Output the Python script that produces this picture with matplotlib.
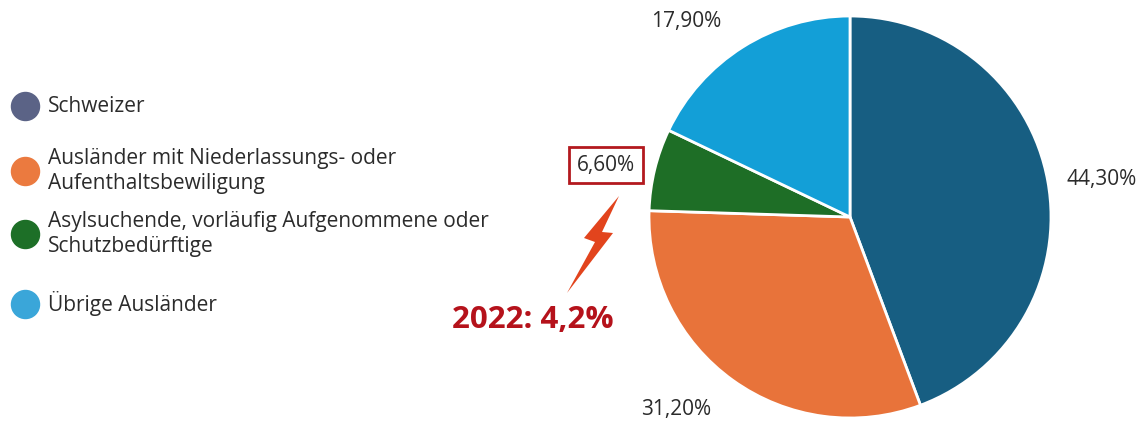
import matplotlib
matplotlib.use("Agg")
import matplotlib.pyplot as plt
from matplotlib.patches import Polygon

# ---- data ----
categories = [
    "Schweizer",
    "Ausländer mit Niederlassungs- oder\nAufenthaltsbewiligung",
    "Asylsuchende, vorläufig Aufgenommene oder\nSchutzbedürftige",
    "Übrige Ausländer",
]
shares = [44.30, 31.20, 6.60, 17.90]
value_labels = ["44,30%", "31,20%", "6,60%", "17,90%"]
slice_colors = ["#175e82", "#e8733a", "#1e6e26", "#139fd7"]
legend_colors = ["#5b6386", "#eb7a3f", "#1d6f27", "#3aa6d9"]
note_text = "2022: 4,2%"

# ---- layout (pixel-like coordinates, y up) ----
W, H = 1139, 421
plt.rcParams['font.family'] = ['Open Sans', 'DejaVu Sans']
fig = plt.figure(figsize=(W / 100, H / 100), dpi=100)
ax = fig.add_axes([0, 0, 1, 1])

center = (850, H - 217)
radius = 201
ax.pie(shares, colors=slice_colors, startangle=90, counterclock=False,
       center=center, radius=radius,
       wedgeprops=dict(edgecolor="white", linewidth=2))
ax.set_xlim(0, W)
ax.set_ylim(0, H)
ax.set_aspect('auto')
ax.axis('off')

text_color = "#2b2b2b"
# value labels: (x, y, ha)
label_pos = [(1137, H - 180, 'right'), (676, H - 410, 'center'),
             (606, H - 165, 'center'), (686, H - 22, 'center')]
for (x, y, ha), lab, i in zip(label_pos, value_labels, range(4)):
    kw = {}
    if i == 2:
        kw['bbox'] = dict(boxstyle='square,pad=0.38', facecolor='white',
                          edgecolor='#b3191e', linewidth=2)
    ax.text(x, y, lab, ha=ha, va='center', fontsize=15, color=text_color, **kw)

# lightning bolt
bolt = [(619, H - 196), (602, H - 232), (613, H - 233), (567, H - 293),
        (595, H - 242), (584, H - 238)]
ax.add_patch(Polygon(bolt, closed=True, facecolor="#e2441d", edgecolor="none"))
ax.text(533, H - 320, note_text, ha='center', va='center', fontsize=22.5,
        fontweight='bold', color="#b5121b")

# legend (manual)
leg_y = [106, 171, 234, 304]
for y, lab, c in zip(leg_y, categories, legend_colors):
    ax.scatter([25], [H - y], s=28 ** 2 * 0.52, color=c, zorder=3)
    ax.text(48, H - y, lab, ha='left', va='center', fontsize=15,
            color=text_color, linespacing=1.2)

fig.savefig("out.png", dpi=100, facecolor="white")
